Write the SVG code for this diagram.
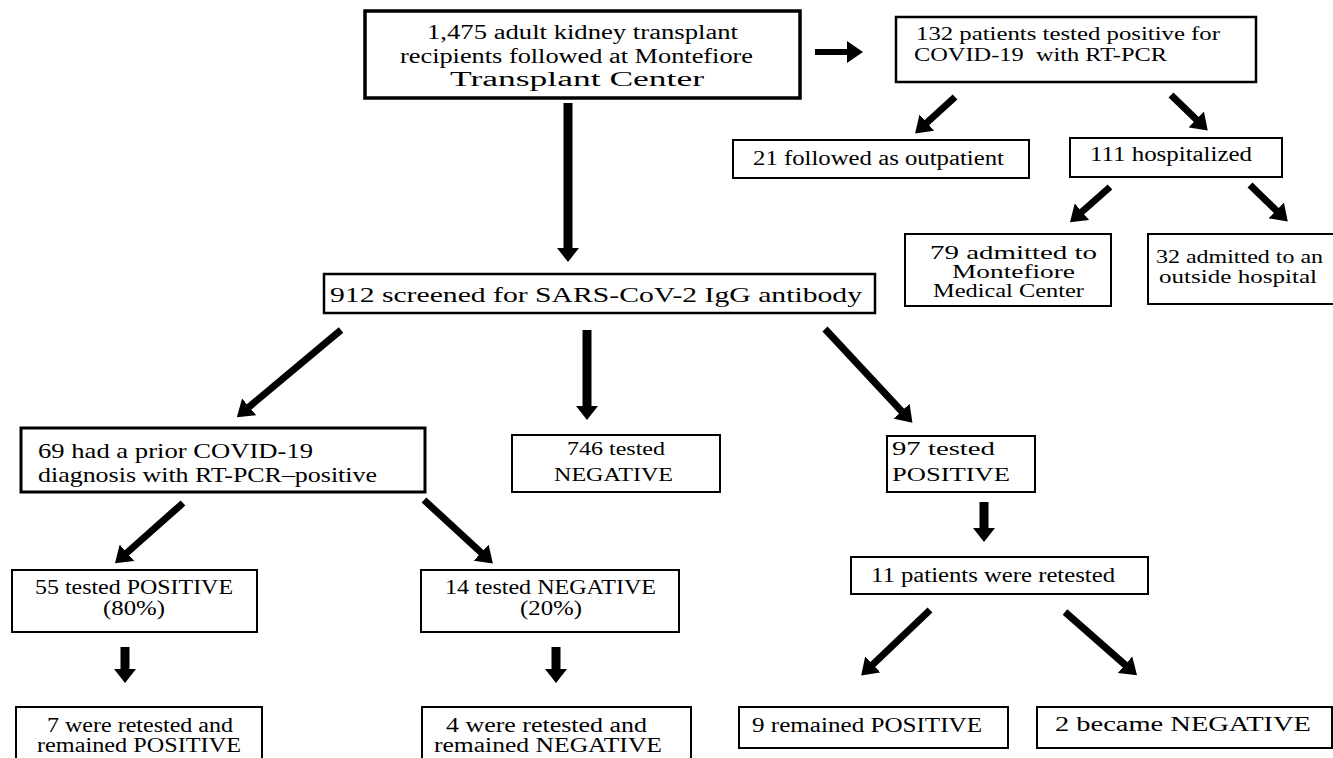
<svg xmlns="http://www.w3.org/2000/svg" width="1333" height="758" viewBox="0 0 1333 758">
<style>
.b{fill:#fff;stroke:#000;stroke-width:2}
.t{font-family:"Liberation Serif","Times New Roman",serif;fill:#000;font-size:20px}
.a{stroke:#000;stroke-width:7;fill:none;marker-end:url(#ah)}
.ab{stroke:#000;stroke-width:9;fill:none;marker-end:url(#ahb)}
</style>
<defs>
<marker id="ah" viewBox="0 0 16 22" refX="8" refY="11" markerWidth="16" markerHeight="22" markerUnits="userSpaceOnUse" orient="auto"><path d="M0,0 L16,11 L0,22 z" fill="#000"/></marker>
<marker id="ahb" viewBox="0 0 14 22" refX="6" refY="11" markerWidth="14" markerHeight="22" markerUnits="userSpaceOnUse" orient="auto"><path d="M0,0 L14,11 L0,22 z" fill="#000"/></marker>
</defs>
<rect width="1333" height="758" fill="#fff"/>
<g id="connectors">
<line class="ab" x1="568" y1="103" x2="568" y2="254"/>
<line class="a" x1="815" y1="52" x2="855" y2="52" style="stroke-width:6"/>
<line class="a" x1="955" y1="97" x2="921" y2="128"/>
<line class="a" x1="1171" y1="95" x2="1202" y2="125"/>
<line class="a" x1="1110" y1="187" x2="1076" y2="217"/>
<line class="a" x1="1250" y1="185" x2="1282" y2="216"/>
<line class="a" x1="341" y1="330" x2="243" y2="412"/>
<line class="ab" x1="587" y1="330" x2="587" y2="412"/>
<line class="a" x1="825" y1="329" x2="907" y2="417"/>
<line class="a" x1="183" y1="503" x2="121" y2="558"/>
<line class="a" x1="424" y1="500" x2="487" y2="558"/>
<line class="ab" x1="125" y1="647" x2="125" y2="675"/>
<line class="ab" x1="556" y1="647" x2="556" y2="675"/>
<line class="ab" x1="984" y1="502" x2="984" y2="534"/>
<line class="a" x1="930" y1="610" x2="867" y2="670"/>
<line class="a" x1="1065" y1="612" x2="1131" y2="670"/>
</g>
<g id="n-top"><rect class="b" x="365" y="11" width="435" height="87" style="stroke-width:3.5"/>
<text class="t" x="427" y="39" textLength="311" lengthAdjust="spacingAndGlyphs">1,475 adult kidney transplant</text>
<text class="t" x="400" y="63" textLength="353" lengthAdjust="spacingAndGlyphs">recipients followed at Montefiore</text>
<text class="t" x="450" y="86" textLength="254" lengthAdjust="spacingAndGlyphs">Transplant Center</text></g>
<g id="n-132"><rect class="b" x="896" y="17" width="360" height="65" style="stroke-width:2.5"/>
<text class="t" style="font-size:19px" x="916" y="40" textLength="304" lengthAdjust="spacingAndGlyphs">132 patients tested positive for</text>
<text class="t" style="font-size:19px" xml:space="preserve" x="914" y="61" textLength="253" lengthAdjust="spacingAndGlyphs">COVID-19  with RT-PCR</text></g>
<g id="n-21"><rect class="b" x="733" y="140" width="296" height="38"/>
<text class="t" x="753" y="165" textLength="251" lengthAdjust="spacingAndGlyphs">21 followed as outpatient</text></g>
<g id="n-111"><rect class="b" x="1070" y="138" width="212" height="39"/>
<text class="t" x="1090" y="161" textLength="162" lengthAdjust="spacingAndGlyphs">111 hospitalized</text></g>
<g id="n-79"><rect class="b" x="905" y="234" width="206" height="72"/>
<text class="t" style="font-size:19px" x="930" y="259" textLength="167" lengthAdjust="spacingAndGlyphs">79 admitted to</text>
<text class="t" style="font-size:19px" x="952" y="278" textLength="123" lengthAdjust="spacingAndGlyphs">Montefiore</text>
<text class="t" style="font-size:19px" x="933" y="297" textLength="151" lengthAdjust="spacingAndGlyphs">Medical Center</text></g>
<g id="n-32"><rect class="b" x="1148" y="234" width="200" height="70"/>
<text class="t" style="font-size:19px" x="1156" y="263" textLength="167" lengthAdjust="spacingAndGlyphs">32 admitted to an</text>
<text class="t" style="font-size:19px" x="1159" y="283" textLength="158" lengthAdjust="spacingAndGlyphs">outside hospital</text></g>
<g id="n-912"><rect class="b" x="324" y="274" width="551" height="39" style="stroke-width:2.5"/>
<text class="t" style="font-size:21px" x="330" y="302" textLength="532" lengthAdjust="spacingAndGlyphs">912 screened for SARS-CoV-2 IgG antibody</text></g>
<g id="n-69"><rect class="b" x="21" y="428" width="404" height="64" style="stroke-width:3"/>
<text class="t" style="font-size:21px" x="38" y="458" textLength="275" lengthAdjust="spacingAndGlyphs">69 had a prior COVID-19</text>
<text class="t" style="font-size:21px" x="38" y="482" textLength="339" lengthAdjust="spacingAndGlyphs">diagnosis with RT-PCR–positive</text></g>
<g id="n-746"><rect class="b" x="512" y="435" width="208" height="57"/>
<text class="t" style="font-size:19px" x="567" y="455" textLength="98" lengthAdjust="spacingAndGlyphs">746 tested</text>
<text class="t" style="font-size:19px" x="554" y="481" textLength="119" lengthAdjust="spacingAndGlyphs">NEGATIVE</text></g>
<g id="n-97"><rect class="b" x="887" y="436" width="148" height="56"/>
<text class="t" style="font-size:19px" x="892" y="455" textLength="103" lengthAdjust="spacingAndGlyphs">97 tested</text>
<text class="t" style="font-size:19px" x="892" y="481" textLength="118" lengthAdjust="spacingAndGlyphs">POSITIVE</text></g>
<g id="n-55"><rect class="b" x="12" y="570" width="245" height="62"/>
<text class="t" x="35" y="594" textLength="198" lengthAdjust="spacingAndGlyphs">55 tested POSITIVE</text>
<text class="t" x="103" y="615" textLength="62" lengthAdjust="spacingAndGlyphs">(80%)</text></g>
<g id="n-14"><rect class="b" x="421" y="570" width="258" height="62"/>
<text class="t" x="445" y="594" textLength="211" lengthAdjust="spacingAndGlyphs">14 tested NEGATIVE</text>
<text class="t" x="520" y="615" textLength="62" lengthAdjust="spacingAndGlyphs">(20%)</text></g>
<g id="n-7"><rect class="b" x="16" y="707" width="246" height="70"/>
<text class="t" x="47" y="732" textLength="186" lengthAdjust="spacingAndGlyphs">7 were retested and</text>
<text class="t" x="37" y="752" textLength="204" lengthAdjust="spacingAndGlyphs">remained POSITIVE</text></g>
<g id="n-4"><rect class="b" x="422" y="707" width="269" height="70"/>
<text class="t" x="446" y="732" textLength="201" lengthAdjust="spacingAndGlyphs">4 were retested and</text>
<text class="t" x="434" y="752" textLength="228" lengthAdjust="spacingAndGlyphs">remained NEGATIVE</text></g>
<g id="n-11"><rect class="b" x="851" y="557" width="297" height="37"/>
<text class="t" x="871" y="582" textLength="244" lengthAdjust="spacingAndGlyphs">11 patients were retested</text></g>
<g id="n-9"><rect class="b" x="739" y="707" width="269" height="41"/>
<text class="t" x="752" y="732" textLength="230" lengthAdjust="spacingAndGlyphs">9 remained POSITIVE</text></g>
<g id="n-2"><rect class="b" x="1037" y="707" width="295" height="41"/>
<text class="t" x="1055" y="731" textLength="256" lengthAdjust="spacingAndGlyphs">2 became NEGATIVE</text></g>
</svg>
